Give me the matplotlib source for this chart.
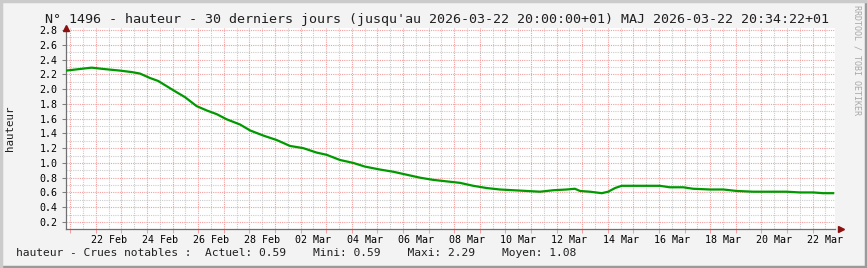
from datetime import datetime, timedelta

import matplotlib
matplotlib.use("Agg")
import matplotlib.pyplot as plt
import matplotlib.dates as mdates
from matplotlib.ticker import MultipleLocator, FuncFormatter
from matplotlib.lines import Line2D

plt.rcParams["font.family"] = "DejaVu Sans Mono"

title = "N° 1496 - hauteur - 30 derniers jours (jusqu'au 2026-03-22 20:00:00+01) MAJ 2026-03-22 20:34:22+01"
legend_text = "hauteur - Crues notables :  Actuel: 0.59    Mini: 0.59    Maxi: 2.29    Moyen: 1.08"
ylabel = "hauteur"
watermark = "RRDTOOL / TOBI OETIKER"

start = datetime(2026, 2, 20, 20, 0)
end = datetime(2026, 3, 22, 20, 0)

# days since start
day_offsets = [0.0, 1.0, 1.52, 2.11, 2.57, 2.89, 3.28, 3.6, 3.93, 4.26, 4.65,
               5.1, 5.5, 5.89, 6.28, 6.8, 7.19, 7.71, 8.23, 8.75, 9.27, 9.79,
               10.18, 10.7, 11.22, 11.68, 12.27, 12.79, 13.31, 13.83, 14.35,
               14.87, 15.39, 15.91, 16.43, 16.95, 17.47, 18.0, 18.52, 19.04,
               19.56, 19.88, 20.08, 20.47, 20.93, 21.18, 21.45, 21.71, 22.16,
               22.68, 23.2, 23.59, 24.11, 24.5, 25.16, 25.68, 26.2, 26.85,
               27.37, 28.15, 28.67, 29.19, 29.58, 29.97]
hauteur = [2.25, 2.29, 2.27, 2.25, 2.23, 2.21, 2.15, 2.11, 2.04, 1.97, 1.89,
           1.77, 1.71, 1.66, 1.59, 1.52, 1.44, 1.37, 1.31, 1.23, 1.20, 1.14,
           1.11, 1.04, 1.00, 0.95, 0.91, 0.88, 0.84, 0.80, 0.77,
           0.75, 0.73, 0.69, 0.66, 0.64, 0.63, 0.62, 0.61, 0.63,
           0.64, 0.65, 0.62, 0.61, 0.59, 0.61, 0.66, 0.69, 0.69,
           0.69, 0.69, 0.67, 0.67, 0.65, 0.64, 0.64, 0.62, 0.61,
           0.61, 0.61, 0.60, 0.60, 0.59, 0.59]

times = [start + timedelta(days=d) for d in day_offsets]

W, H = 867, 268
fig = plt.figure(figsize=(W / 100, H / 100), dpi=100)
fig.patch.set_facecolor("#f3f3f3")

left, right, top, bottom = 66, 835, 28, 229
ax = fig.add_axes([left / W, 1 - bottom / H, (right - left) / W, (bottom - top) / H])
ax.set_facecolor("white")

ax.plot(times, hauteur, color="#009900", lw=1.6, zorder=3)

ax.set_xlim(start, end + timedelta(hours=1))
ax.set_ylim(0.105, 2.827)

red = "#f2a0a0"
grey = "#cccccc"
dot = (0, (1, 1))

ax.xaxis.set_major_locator(mdates.DayLocator())
ax.xaxis.set_minor_locator(mdates.HourLocator(byhour=12))
ax.xaxis.set_major_formatter(FuncFormatter(lambda v, p: ""))


def day_label(v, pos):
    dt = mdates.num2date(v)
    return dt.strftime("%d %b") if dt.day % 2 == 0 else ""


ax.xaxis.set_minor_formatter(FuncFormatter(day_label))
ax.yaxis.set_major_locator(MultipleLocator(0.2))
ax.yaxis.set_minor_locator(MultipleLocator(0.1))
ax.yaxis.set_major_formatter(FuncFormatter(lambda v, p: f"{v:.1f}"))

ax.grid(which="major", color=red, ls=dot, lw=0.8, zorder=1)
ax.grid(which="minor", color=grey, ls=dot, lw=0.8, zorder=0)

ax.tick_params(axis="x", which="major", length=3, color=red, width=0.75)
ax.tick_params(axis="x", which="minor", length=0, pad=4, labelsize=7.2)
ax.tick_params(axis="y", which="major", length=3, color="#808080", width=0.75,
               pad=3, labelsize=7.2)
ax.tick_params(axis="y", which="minor", length=0)

for s in ("top", "right"):
    ax.spines[s].set_visible(False)
for s in ("left", "bottom"):
    ax.spines[s].set_color("#707070")
    ax.spines[s].set_linewidth(0.9)

# axis arrows
ax.plot([0], [1.0], marker="^", color="#8b1010", ms=4, transform=ax.transAxes,
        clip_on=False, zorder=5)
ax.plot([1.008], [0], marker=">", color="#8b1010", ms=4, transform=ax.transAxes,
        clip_on=False, zorder=5)

fig.text(437 / W, 1 - 19 / H, title, ha="center", va="center", fontsize=9.6, color="#202020")
fig.text(10 / W, 1 - 128 / H, ylabel, ha="center", va="center", rotation=90,
         fontsize=7.8, color="#202020")
fig.text(16 / W, 1 - 253 / H, legend_text, ha="left", va="center", fontsize=8.1,
         color="#202020")
fig.text(857 / W, 1 - 5 / H, watermark, ha="center", va="top", rotation=270,
         fontsize=6.0, color="#a8a8a8")

# frame shading
fig.add_artist(Line2D([0, 1], [0.002, 0.002], transform=fig.transFigure, color="#9a9a9a", lw=2.5))
fig.add_artist(Line2D([0.999, 0.999], [0, 1], transform=fig.transFigure, color="#9a9a9a", lw=2.5))
fig.add_artist(Line2D([0.001, 0.001], [0, 1], transform=fig.transFigure, color="#cbcbcb", lw=2.5))
fig.add_artist(Line2D([0, 1], [0.998, 0.998], transform=fig.transFigure, color="#cbcbcb", lw=2.5))

fig.savefig("out.png", dpi=100, facecolor=fig.get_facecolor())
